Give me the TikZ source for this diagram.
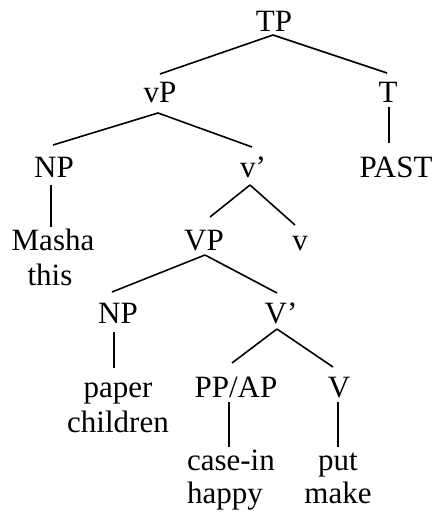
\documentclass[tikz,border=0pt]{standalone}
\usepackage{fontspec}
\setmainfont{Liberation Serif}
\usetikzlibrary{calc}
\begin{document}
\begin{tikzpicture}[x=1pt,y=-1pt,
  lbl/.style={inner sep=0pt,outer sep=0pt,anchor=base,font=\fontsize{31}{35}\selectfont},
  edge/.style={line width=1.6pt}]
\useasboundingbox (0,0) rectangle (436,518);
% nodes
\node[lbl] (TP) at (274,32) {TP};
\node[lbl] (vP) at (160,103) {vP};
\node[lbl] (T) at (388,103) {T};
\node[lbl] (NP) at (54,178) {NP};
\node[lbl] (vbar) at (253,178) {v’};
\node[lbl] (PAST) at (396,178) {PAST};
\node[lbl] (masha) at (53,250) {Masha};
\node[lbl] (this) at (50,285) {this};
\node[lbl] (VP) at (204,250) {VP};
\node[lbl] (v) at (300,250) {v};
\node[lbl] (NPb) at (118,323) {NP};
\node[lbl] (Vbar) at (281,323) {V’};
\node[lbl] (paper) at (118,397) {paper};
\node[lbl] (children) at (118,432) {children};
\node[lbl] (PPAP) at (236,397) {PP/AP};
\node[lbl] (V) at (339,397) {V};
\node[lbl,anchor=base west] (casein) at (187,470) {case-in};
\node[lbl,anchor=base west] (happy) at (187,503) {happy};
\node[lbl] (put) at (338,470) {put};
\node[lbl] (make) at (338,503) {make};
% connectors
\draw[edge] ($(TP.base)+(-1,3)$) -- ($(vP.base)+(0,-29)$);
\draw[edge] ($(TP.base)+(-1,3)$) -- ($(T.base)+(-1,-30)$);
\draw[edge] ($(T.base)+(1,4)$) -- ($(PAST.base)+(-7,-35)$);
\draw[edge] ($(vP.base)+(-2,10)$) -- ($(NP.base)+(-1,-33)$);
\draw[edge] ($(vP.base)+(-2,10)$) -- ($(vbar.base)+(-1,-31)$);
\draw[edge] ($(NP.base)+(-3,7)$) -- ($(masha.base)+(-2,-23)$);
\draw[edge] ($(vbar.base)+(-3,7)$) -- ($(VP.base)+(6,-33)$);
\draw[edge] ($(vbar.base)+(-3,7)$) -- ($(v.base)+(-5,-25)$);
\draw[edge] ($(VP.base)+(1,5)$) -- ($(NPb.base)+(-6,-31)$);
\draw[edge] ($(VP.base)+(1,5)$) -- ($(Vbar.base)+(-4,-30)$);
\draw[edge] ($(NPb.base)+(-4,9)$) -- ($(paper.base)+(-4,-29)$);
\draw[edge] ($(Vbar.base)+(-4,6)$) -- ($(PPAP.base)+(-4,-34)$);
\draw[edge] ($(Vbar.base)+(-4,6)$) -- ($(V.base)+(-6,-30)$);
\draw[edge] ($(PPAP.base)+(-7,5)$) -- ($(casein.base west)+(42,-23)$);
\draw[edge] ($(V.base)+(-1,5)$) -- ($(put.base)+(0,-23)$);
\end{tikzpicture}
\end{document}
